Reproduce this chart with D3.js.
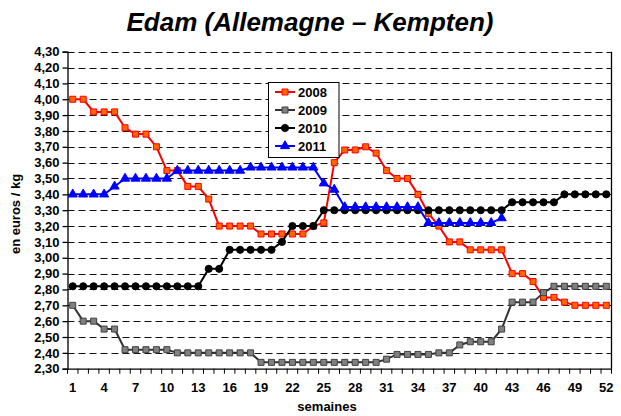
<!DOCTYPE html>
<html>
<head>
<meta charset="utf-8">
<script src="https://cdn.jsdelivr.net/npm/d3@7"></script>
<style>
html,body{margin:0;padding:0;background:#fff;}
svg{display:block;font-family:"Liberation Sans",Arial,sans-serif;}
</style>
</head>
<body>
<svg id="chart" width="621" height="416"></svg>
<script>
const weeks = d3.range(1, 53);
const tickLabels = [1,4,7,10,13,16,19,22,25,28,31,34,37,40,43,46,49,52];
const seriesNames = ["2008","2009","2010","2011"];
const s2008 = [4.00,4.00,3.92,3.92,3.92,3.82,3.78,3.78,3.70,3.55,
               3.55,3.45,3.45,3.37,3.20,3.20,3.20,3.20,3.15,3.15,
               3.15,3.15,3.15,3.20,3.22,3.60,3.68,3.68,3.70,3.66,
               3.55,3.50,3.50,3.40,3.28,3.20,3.10,3.10,3.05,3.05,
               3.05,3.05,2.90,2.90,2.85,2.75,2.75,2.72,2.70,2.70,
               2.70,2.70];
const s2009 = [2.70,2.60,2.60,2.55,2.55,2.42,2.42,2.42,2.42,2.42,
               2.40,2.40,2.40,2.40,2.40,2.40,2.40,2.40,2.34,2.34,
               2.34,2.34,2.34,2.34,2.34,2.34,2.34,2.34,2.34,2.34,
               2.36,2.39,2.39,2.39,2.39,2.40,2.40,2.45,2.47,2.47,
               2.47,2.55,2.72,2.72,2.72,2.78,2.82,2.82,2.82,2.82,
               2.82,2.82];
const s2010 = [2.82,2.82,2.82,2.82,2.82,2.82,2.82,2.82,2.82,2.82,
               2.82,2.82,2.82,2.93,2.93,3.05,3.05,3.05,3.05,3.05,
               3.10,3.20,3.20,3.20,3.30,3.30,3.30,3.30,3.30,3.30,
               3.30,3.30,3.30,3.30,3.30,3.30,3.30,3.30,3.30,3.30,
               3.30,3.30,3.35,3.35,3.35,3.35,3.35,3.40,3.40,3.40,
               3.40,3.40];
const s2011 = [3.40,3.40,3.40,3.40,3.45,3.50,3.50,3.50,3.50,3.50,
               3.55,3.55,3.55,3.55,3.55,3.55,3.55,3.57,3.57,3.57,
               3.57,3.57,3.57,3.57,3.47,3.43,3.32,3.32,3.32,3.32,
               3.32,3.32,3.32,3.32,3.22,3.22,3.22,3.22,3.22,3.22,
               3.22,3.25];
const yTicks = d3.range(0, 21).map(i => +(2.30 + i * 0.1).toFixed(2));

const svg = d3.select("#chart");
const pL = 67.5, pR = 611.5, pT = 51.7, pB = 368.7;

const x = d3.scaleBand().domain(weeks).range([pL, pR]).padding(0);
const y = d3.scaleLinear().domain([2.30, 4.30]).range([pB, pT]);
const cx = w => x(w) + x.bandwidth() / 2;
const fmt = v => d3.format(".2f")(v).replace(".", ",");
const FF = '"Liberation Sans",Arial,sans-serif';

// title
svg.append("text").attr("x", 310).attr("y", 31).attr("text-anchor", "middle")
  .attr("font-size", 26).attr("font-weight", "bold").attr("font-style", "italic")
  .text("Edam (Allemagne \u2013 Kempten)");

// gridlines
svg.append("g").selectAll("line").data(yTicks.slice(1)).join("line")
  .attr("x1", pL).attr("x2", pR)
  .attr("y1", d => Math.round(y(d)) + 0.5).attr("y2", d => Math.round(y(d)) + 0.5)
  .attr("stroke", "#111").attr("stroke-width", 1).attr("stroke-dasharray", "7,4");

// y axis
const yAxis = svg.append("g").attr("transform", `translate(${pL},0)`)
  .call(d3.axisLeft(y).tickValues(yTicks).tickFormat(fmt).tickSize(5).tickPadding(3));
yAxis.selectAll("text").attr("font-size", 13).attr("font-weight", "bold").attr("fill", "#000")
  .style("font-family", FF);
yAxis.selectAll("line,path").attr("stroke", "#000").attr("stroke-width", 1.3);

// x axis labels
const xAxis = svg.append("g").attr("transform", `translate(0,${pB})`)
  .call(d3.axisBottom(x).tickValues(tickLabels).tickSize(0).tickPadding(14));
xAxis.select("path").attr("stroke", "#000").attr("stroke-width", 1.3);
xAxis.selectAll("text").attr("font-size", 13).attr("font-weight", "bold").attr("fill", "#000")
  .style("font-family", FF);
// x tick marks at band boundaries
const bounds = weeks.map(w => x(w)).concat([pR]);
svg.append("g").selectAll("line").data(bounds).join("line")
  .attr("x1", d => d).attr("x2", d => d)
  .attr("y1", pB).attr("y2", pB + 5)
  .attr("stroke", "#000").attr("stroke-width", 1);

// right border
svg.append("line").attr("x1", pR).attr("x2", pR).attr("y1", pT).attr("y2", pB)
  .attr("stroke", "#000").attr("stroke-width", 1.3);

// axis titles
svg.append("text").attr("x", 327).attr("y", 411).attr("text-anchor", "middle")
  .attr("font-size", 13).attr("font-weight", "bold").text("semaines");
svg.append("text").attr("transform", "translate(20,214) rotate(-90)").attr("text-anchor", "middle")
  .attr("font-size", 13).attr("font-weight", "bold").text("en euros / kg");

// series
const styles = [
  {name: seriesNames[0], data: s2008, line: "#FF0000", fill: "#FF6600", stroke: "#FF0000", sym: d3.symbolSquare, size: 36},
  {name: seriesNames[1], data: s2009, line: "#333333", fill: "#808080", stroke: "#404040", sym: d3.symbolSquare, size: 36},
  {name: seriesNames[2], data: s2010, line: "#000000", fill: "#000000", stroke: "#000000", sym: d3.symbolCircle, size: 40},
  {name: seriesNames[3], data: s2011, line: "#0000FF", fill: "#0000FF", stroke: "#0000FF", sym: d3.symbolTriangle, size: 36}
];
const line = d3.line().x((d, i) => cx(weeks[i])).y(d => y(d));
styles.forEach(s => {
  const g = svg.append("g");
  g.append("path").datum(s.data).attr("d", line)
    .attr("fill", "none").attr("stroke", s.line).attr("stroke-width", 2).attr("stroke-linejoin", "round");
  g.selectAll("path.m").data(s.data).join("path").attr("class", "m")
    .attr("transform", (d, i) => `translate(${cx(weeks[i])},${y(d)})`)
    .attr("d", d3.symbol().type(s.sym).size(s.size))
    .attr("fill", s.fill).attr("stroke", s.stroke).attr("stroke-width", 1);
});

// legend
const lg = svg.append("g");
lg.append("rect").attr("x", 268.5).attr("y", 82.5).attr("width", 70.5).attr("height", 75)
  .attr("fill", "#fff").attr("stroke", "#000").attr("stroke-width", 1);
styles.forEach((s, i) => {
  const yy = 92 + i * 18;
  lg.append("line").attr("x1", 275).attr("x2", 295).attr("y1", yy).attr("y2", yy)
    .attr("stroke", s.line).attr("stroke-width", 2);
  lg.append("path").attr("transform", `translate(285,${yy})`)
    .attr("d", d3.symbol().type(s.sym).size(s.size))
    .attr("fill", s.fill).attr("stroke", s.stroke).attr("stroke-width", 1);
  lg.append("text").attr("x", 298).attr("y", yy + 4.5).attr("font-size", 13).attr("font-weight", "bold")
    .text(s.name);
});
</script>
</body>
</html>
